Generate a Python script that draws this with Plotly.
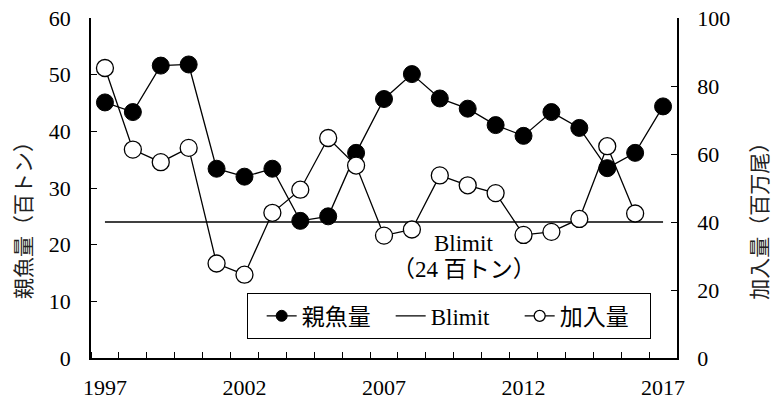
import plotly.graph_objects as go

years = list(range(1997, 2018))
spawning = [45.1, 43.4, 51.6, 51.8, 33.4, 32.0, 33.4, 24.2, 25.0, 36.2, 45.7,
            50.1, 45.8, 44.0, 41.1, 39.2, 43.4, 40.6, 33.5, 36.2, 44.4]
recruit_years = list(range(1997, 2017))
recruitment = [85.3, 61.3, 57.6, 61.8, 27.8, 24.5, 42.7, 49.5, 64.7, 56.6, 36.0,
               37.8, 53.7, 50.8, 48.5, 36.2, 37.1, 40.9, 62.3, 42.5]
BLIMIT = 24
label_years = [1997, 2002, 2007, 2012, 2017]

FONT = "Liberation Serif, Times New Roman, Noto Sans CJK JP, serif"
JFONT = "Noto Sans CJK JP, sans-serif"

fig = go.Figure()
fig.add_trace(go.Scatter(
    x=years, y=spawning, name="親魚量", mode="lines+markers", showlegend=False,
    line=dict(color="black", width=1.3),
    marker=dict(symbol="circle", size=17, color="black", line=dict(color="black", width=1)),
    yaxis="y"))
fig.add_trace(go.Scatter(
    x=[years[0], years[-1]], y=[BLIMIT, BLIMIT], name="Blimit", mode="lines",
    showlegend=False, line=dict(color="black", width=1.3), yaxis="y"))
fig.add_trace(go.Scatter(
    x=recruit_years, y=recruitment, name="加入量", mode="lines+markers", showlegend=False,
    line=dict(color="black", width=1.3),
    marker=dict(symbol="circle", size=17, color="white", line=dict(color="black", width=1.3)),
    yaxis="y2"))

# legend-only entries (smaller symbols, as in the reference legend)
fig.add_trace(go.Scatter(x=[None], y=[None], name="親魚量", mode="lines+markers",
                         line=dict(color="black", width=1.3),
                         marker=dict(size=11, color="black", line=dict(color="black", width=1))))
fig.add_trace(go.Scatter(x=[None], y=[None], name="Blimit", mode="lines",
                         line=dict(color="black", width=1.3)))
fig.add_trace(go.Scatter(x=[None], y=[None], name="加入量", mode="lines+markers",
                         line=dict(color="black", width=1.3),
                         marker=dict(size=11, color="white", line=dict(color="black", width=1.3))))

boundaries = [y - 0.5 for y in years] + [years[-1] + 0.5]

axis_common = dict(showgrid=False, zeroline=False, showline=True, linecolor="black",
                   linewidth=1.5, automargin=False, ticklabeloverflow="allow")

fig.update_layout(
    width=777, height=403,
    margin=dict(l=91, r=100, t=18, b=45, autoexpand=False),
    paper_bgcolor="white", plot_bgcolor="white",
    font=dict(family=FONT, size=22, color="black"),
    showlegend=True,
    legend=dict(
        orientation="h", x=0.266, y=0.191, xanchor="left", yanchor="top",
        bordercolor="black", borderwidth=1.3, bgcolor="white",
        font=dict(family=FONT, size=23),
        entrywidth=84, entrywidthmode="pixels",
        title=dict(text="&nbsp;", side="left", font=dict(size=14)),
    ),
    xaxis=dict(
        range=[years[0] - 0.5, years[-1] + 0.5],
        tickmode="array", tickvals=label_years, ticktext=[str(y) for y in label_years],
        ticks="", ticklabelstandoff=9,
        minor=dict(tickmode="array", tickvals=boundaries, ticks="inside",
                   ticklen=6, tickwidth=1.3, tickcolor="black", showgrid=False),
        tickfont=dict(family=FONT, size=22),
        **axis_common,
    ),
    yaxis=dict(
        range=[0, 60], dtick=10, ticks="inside", ticklen=6, tickwidth=1.3, tickcolor="black",
        ticklabelstandoff=14, tickfont=dict(family=FONT, size=22),
        **axis_common,
    ),
    yaxis2=dict(
        range=[0, 100], dtick=20, overlaying="y", side="right",
        ticks="inside", ticklen=6, tickwidth=1.3, tickcolor="black",
        ticklabelstandoff=14, tickfont=dict(family=FONT, size=22),
        **axis_common,
    ),
    annotations=[
        dict(text="親魚量（百トン）", xref="paper", yref="paper",
             x=-0.118, y=0.42, xanchor="center", yanchor="middle",
             textangle=-90, showarrow=False, font=dict(family=JFONT, size=21, color="#222")),
        dict(text="加入量（百万尾）", xref="paper", yref="paper",
             x=1.139, y=0.42, xanchor="center", yanchor="middle",
             textangle=-90, showarrow=False, font=dict(family=JFONT, size=21, color="#222")),
        dict(text="Blimit", xref="paper", yref="paper",
             x=0.636, y=0.338, xanchor="center", yanchor="middle",
             showarrow=False, font=dict(family=FONT, size=23)),
        dict(text="（24 百トン）", xref="paper", yref="paper",
             x=0.636, y=0.259, xanchor="center", yanchor="middle",
             showarrow=False, font=dict(family=FONT, size=23)),
    ],
)

fig.write_html("out.html", config={"displayModeBar": False},
               post_script="document.body.style.margin='0';")
